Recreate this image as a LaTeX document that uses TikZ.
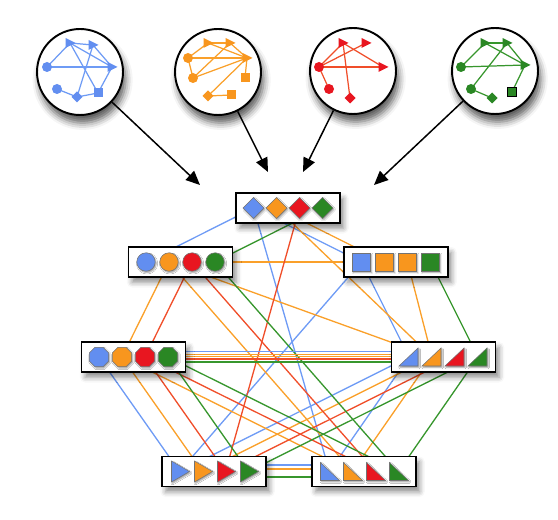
\documentclass[tikz,border=0pt]{standalone}
\usepackage{tikz}
\usetikzlibrary{calc, arrows.meta, shadows.blur}
\usepackage{xcolor}

\definecolor{bgcyan}{RGB}{238,255,255}
\definecolor{sblue}{RGB}{98,142,240}
\definecolor{sorange}{RGB}{248,150,30}
\definecolor{sred}{RGB}{232,22,32}
\definecolor{sgreen}{RGB}{42,135,36}
\definecolor{lblue}{RGB}{110,155,245}
\definecolor{lorange}{RGB}{250,160,42}
\definecolor{lred}{RGB}{240,78,42}
\definecolor{lgreen}{RGB}{55,150,45}

\pgfdeclarelayer{patch}
\pgfdeclarelayer{edges}
\pgfsetlayers{patch,edges,main}

\tikzset{
  box/.style={draw, line width=1.1pt, fill=white, minimum width=2.08cm, minimum height=0.6cm,
    blur shadow={shadow xshift=2pt, shadow yshift=-3pt, shadow blur radius=3pt, shadow opacity=45}},
  ring/.style={circle, draw, line width=1.1pt, fill=white, minimum size=1.72cm,
    blur shadow={shadow xshift=1.5pt, shadow yshift=-4.5pt, shadow blur radius=4pt, shadow opacity=65}},
  symb/.style={draw=black!55, line width=0.3pt,
    blur shadow={shadow xshift=0.6pt, shadow yshift=-0.8pt, shadow blur radius=0.8pt, shadow opacity=40}},
  edge/.style={line width=0.75pt},
  inner/.style={line width=0.7pt},
  arr/.style={line width=0.85pt, -{Triangle[length=8pt, width=7pt]}},
  % big symbols in the boxes
  symdia/.pic={\path[symb, fill=#1] (0,-10.5) -- (10.5,0) -- (0,10.5) -- (-10.5,0) -- cycle;},
  symcirc/.pic={\path[symb, fill=#1] (0,0) circle (9.2);},
  symsq/.pic={\path[symb, fill=#1] (-9,-9) rectangle (9,9);},
  symoct/.pic={\path[symb, fill=#1] (22.5:10.5) -- (67.5:10.5) -- (112.5:10.5) -- (157.5:10.5)
    -- (202.5:10.5) -- (247.5:10.5) -- (292.5:10.5) -- (337.5:10.5) -- cycle;},
  symwedge/.pic={\path[symb, fill=#1] (-10,9) -- (9,9) -- (9,-9) -- cycle;},
  symplay/.pic={\path[symb, fill=#1] (-8,-10.5) -- (10,0) -- (-8,10.5) -- cycle;},
  symwt/.pic={\path[symb, fill=#1] (-9,-9) -- (-9,9) -- (10,9) -- cycle;},
  % small symbols in the rings
  mtri/.pic={\fill[#1] (-4.5,-5) -- (5.5,0) -- (-4.5,5) -- cycle;},
  mcirc/.pic={\fill[#1] (0,0) circle (5);},
  mdia/.pic={\fill[#1] (0,-5.5) -- (5.5,0) -- (0,5.5) -- (-5.5,0) -- cycle;},
  msq/.pic={\fill[#1] (-4.5,-4.5) rectangle (4.5,4.5);},
}

\begin{document}
\begin{tikzpicture}[x=0.02cm, y=-0.02cm]
  \useasboundingbox (0,0) rectangle (558,520);

  %► Background and pale white patches
  \begin{pgfonlayer}{patch}
    \fill[bgcyan] (0,0) rectangle (558,520);
    \fill[white] (20,15) rectangle (550,137);
    \fill[white] (220,183) rectangle (358,233);
    \fill[white] (112,234) rectangle (250,298);
    \fill[white] (328,234) rectangle (466,298);
    \fill[white] (63,330) rectangle (203,400);
    \fill[white] (374,330) rectangle (513,400);
    \fill[white] (145,445) rectangle (432,512);
  \end{pgfonlayer}

  % first blurred shadow goes under the top box, where it is hidden
  \node[inner sep=0pt, minimum size=0pt,
    blur shadow={shadow xshift=0pt, shadow yshift=0pt, shadow blur radius=1pt}] (warm) at (288,208) {};

  %► The four coloured graphs
  \node[ring] (g1) at (80,72)  {};
  \node[ring] (g2) at (218,72) {};
  \node[ring] (g3) at (353,71) {};
  \node[ring] (g4) at (495,71) {};

  % blue graph
  \begin{scope}[shift={(g1)}]
    \coordinate (bt1) at (-10,-29); \coordinate (bt2) at (13,-27); \coordinate (bt3) at (32,-5);
    \coordinate (bc1) at (-33,-5);  \coordinate (bc2) at (-23,17); \coordinate (bd) at (-3,25);
    \coordinate (bs) at (18,21);
    \foreach \a/\b in {bt1/bt2, bt1/bt3, bt2/bt3, bc1/bt1, bc1/bt3, bt1/bs, bt2/bd, bt3/bs, bc2/bd, bd/bs}
      \draw[inner, lblue] (\a) -- (\b);
    \path (bt1) pic{mtri=sblue} (bt2) pic{mtri=sblue} (bt3) pic{mtri=sblue}
          (bc1) pic{mcirc=sblue} (bc2) pic{mcirc=sblue} (bd) pic{mdia=sblue} (bs) pic{msq=sblue};
  \end{scope}

  % orange graph
  \begin{scope}[shift={(g2)}]
    \coordinate (ot1) at (-10,-29); \coordinate (ot2) at (12,-29); \coordinate (ot3) at (29,-14);
    \coordinate (oc1) at (-30,-14); \coordinate (oc2) at (-25,6);  \coordinate (os1) at (27,6);
    \coordinate (od) at (-10,24);   \coordinate (os2) at (13,23);
    \foreach \a/\b in {oc1/ot1, oc1/ot3, oc1/oc2, oc2/ot2, oc2/ot3, ot1/ot3, ot2/ot3, ot1/ot2, ot3/os1, ot3/od, od/os2}
      \draw[inner, lorange] (\a) -- (\b);
    \path (ot1) pic{mtri=sorange} (ot2) pic{mtri=sorange} (ot3) pic{mtri=sorange}
          (oc1) pic{mcirc=sorange} (oc2) pic{mcirc=sorange} (od) pic{mdia=sorange}
          (os1) pic{msq=sorange} (os2) pic{msq=sorange};
  \end{scope}

  % red graph
  \begin{scope}[shift={(g3)}]
    \coordinate (rt1) at (-10,-28); \coordinate (rt2) at (13,-28); \coordinate (rt3) at (30,-4);
    \coordinate (rc1) at (-34,-4);  \coordinate (rc2) at (-24,18); \coordinate (rd) at (-3,27);
    \foreach \a/\b in {rc1/rt1, rc1/rt2, rc1/rt3, rt1/rt3, rt1/rd, rc1/rc2}
      \draw[inner, lred] (\a) -- (\b);
    \path (rt1) pic{mtri=sred} (rt2) pic{mtri=sred} (rt3) pic{mtri=sred}
          (rc1) pic{mcirc=sred} (rc2) pic{mcirc=sred} (rd) pic{mdia=sred};
  \end{scope}

  % green graph
  \begin{scope}[shift={(g4)}]
    \coordinate (gt1) at (-10,-28); \coordinate (gt2) at (12,-28); \coordinate (gt3) at (30,-6);
    \coordinate (gc1) at (-34,-4);  \coordinate (gc2) at (-24,18); \coordinate (gd) at (-3,27);
    \coordinate (gs) at (17,21);
    \foreach \a/\b in {gc1/gt1, gc1/gt3, gt1/gt2, gt1/gt3, gt2/gt3, gc2/gt2, gc2/gd, gt3/gs}
      \draw[inner, lgreen] (\a) -- (\b);
    \path (gt1) pic{mtri=sgreen} (gt2) pic{mtri=sgreen} (gt3) pic{mtri=sgreen}
          (gc1) pic{mcirc=sgreen} (gc2) pic{mcirc=sgreen} (gd) pic{mdia=sgreen};
    \filldraw[sgreen, draw=black, line width=0.4pt] ($(gs)+(-4.5,-4.5)$) rectangle ($(gs)+(4.5,4.5)$);
  \end{scope}

  %► Arrows into the top box
  \coordinate (a1) at (200,185);
  \coordinate (a2) at (268,172);
  \coordinate (a3) at (303,172);
  \coordinate (a4) at (374,185);
  \draw[arr] (g1) -- (a1);
  \draw[arr] (g2) -- (a2);
  \draw[arr] (g3) -- (a3);
  \draw[arr] (g4) -- (a4);

  %► Class boxes
  \node[box] (D) at (288,208)   {};
  \node[box] (C) at (180.5,262) {};
  \node[box] (S) at (396,262)   {};
  \node[box] (O) at (133.5,357) {};
  \node[box] (R) at (443.5,357) {};
  \node[box] (P) at (214,471.5) {};
  \node[box] (W) at (364,471.5) {};

  \foreach \c [count=\i] in {sblue,sorange,sred,sgreen} {
    \path ($(D)+(23*\i-57.5,0)$) coordinate (D\i) pic{symdia=\c};
    \path ($(C)+(23*\i-57.5,0)$) coordinate (C\i) pic{symcirc=\c};
    \path ($(O)+(23*\i-57.5,0)$) coordinate (O\i) pic{symoct=\c};
    \path ($(R)+(23*\i-57.5,0)$) coordinate (R\i) pic{symwedge=\c};
    \path ($(P)+(23*\i-57.5,0)$) coordinate (P\i) pic{symplay=\c};
    \path ($(W)+(23*\i-57.5,0)$) coordinate (W\i) pic{symwt=\c};
  }
  \foreach \c [count=\i] in {sblue,sorange,sorange,sgreen}
    \path ($(S)+(23*\i-57.5,0)$) coordinate (S\i) pic{symsq=\c};

  %► Edges between classes (behind the boxes)
  \begin{pgfonlayer}{edges}
    \foreach \a/\b in {D1/C1, D1/S1, D1/W1, S1/P1, S1/R1, O1/P1, R1/P1, R1/W1}
      \draw[edge, lblue] (\a) -- (\b);
    \foreach \a/\b in {D2/S2, D2/R2, C2/O2, C2/S2, C2/R2, C2/W2, S3/R2, O2/P2, O2/W2, R2/P2, R2/W2}
      \draw[edge, lorange] (\a) -- (\b);
    \foreach \a/\b in {D3/P3, C3/O3, C3/W3, O3/P3, O3/W3, R3/P3}
      \draw[edge, lred] (\a) -- (\b);
    \foreach \a/\b in {D4/C4, C4/W4, S4/R4, O4/P4, O4/W4, R4/P4, R4/W4}
      \draw[edge, lgreen] (\a) -- (\b);
    % parallel lines
    \foreach \s/\c in {3pt/lblue, 1.5pt/lorange, 0.2pt/lorange, -1.1pt/lred, -2.8pt/lgreen}
      \draw[edge, \c] ([yshift=\s]O.east) -- ([yshift=\s]R.west);
    \foreach \s/\c in {3.7pt/lblue, 1.9pt/lorange, 1pt/lorange, -3.1pt/lgreen}
      \draw[edge, \c] ([yshift=\s]P.east) -- ([yshift=\s]W.west);
  \end{pgfonlayer}
\end{tikzpicture}
\end{document}
